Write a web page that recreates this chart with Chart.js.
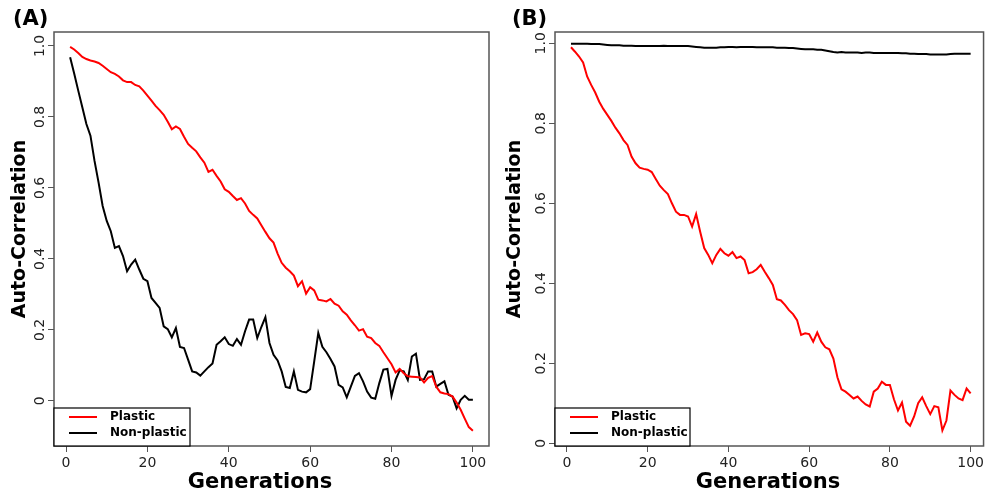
<!DOCTYPE html>
<html>
<head>
<meta charset="utf-8">
<script src="https://cdn.jsdelivr.net/npm/chart.js@4.4.1/dist/chart.umd.min.js"></script>
<style>
  html, body { margin: 0; padding: 0; background: #fff; overflow: hidden; }
  #wrap { position: relative; width: 987px; height: 490px; overflow: hidden; }
  canvas { position: absolute; top: 0; }
  #chartA { left: 0; }
  #chartB { left: 494px; }
</style>
</head>
<body>
<div id="wrap">
  <canvas id="chartA" width="493" height="490"></canvas>
  <canvas id="chartB" width="493" height="490"></canvas>
</div>
<script>
// --- Data ---

const generations = [
  1, 2, 3, 4, 5, 6, 7, 8, 9, 10, 11, 12, 13, 14, 15, 16, 17, 18, 19, 20,
  21, 22, 23, 24, 25, 26, 27, 28, 29, 30, 31, 32, 33, 34, 35, 36, 37, 38, 39, 40,
  41, 42, 43, 44, 45, 46, 47, 48, 49, 50, 51, 52, 53, 54, 55, 56, 57, 58, 59, 60,
  61, 62, 63, 64, 65, 66, 67, 68, 69, 70, 71, 72, 73, 74, 75, 76, 77, 78, 79, 80,
  81, 82, 83, 84, 85, 86, 87, 88, 89, 90, 91, 92, 93, 94, 95, 96, 97, 98, 99, 100
]

const xTicks = [0, 20, 40, 60, 80, 100]
const yTicks = [0, 0.2, 0.4, 0.6, 0.8, 1.0]
const yTickLabels = ['0', '0.2', '0.4', '0.6', '0.8', '1.0']

const seriesLabels = ['Plastic', 'Non-plastic']
const seriesColors = ['#ff0000', '#000000']

// Panel A
const plasticA = [
  0.997, 0.990, 0.980, 0.969, 0.963, 0.959, 0.956, 0.952, 0.944, 0.935,
  0.926, 0.921, 0.914, 0.903, 0.898, 0.898, 0.890, 0.886, 0.874, 0.860,
  0.846, 0.831, 0.819, 0.806, 0.786, 0.765, 0.773, 0.766, 0.744, 0.724,
  0.713, 0.703, 0.686, 0.671, 0.645, 0.651, 0.634, 0.618, 0.596, 0.589,
  0.577, 0.566, 0.571, 0.556, 0.535, 0.524, 0.514, 0.495, 0.476, 0.458,
  0.446, 0.415, 0.389, 0.375, 0.365, 0.353, 0.323, 0.337, 0.302, 0.320,
  0.311, 0.285, 0.283, 0.280, 0.287, 0.274, 0.268, 0.252, 0.243, 0.227,
  0.213, 0.198, 0.202, 0.181, 0.177, 0.163, 0.155, 0.137, 0.120, 0.103,
  0.080, 0.090, 0.078, 0.069, 0.068, 0.067, 0.066, 0.052, 0.065, 0.070,
  0.040, 0.024, 0.021, 0.019, 0.012, -0.005, -0.025, -0.050, -0.074, -0.084
]

const nonPlasticA = [
  0.968, 0.922, 0.874, 0.827, 0.780, 0.747, 0.676, 0.615, 0.549, 0.507,
  0.478, 0.431, 0.436, 0.408, 0.365, 0.384, 0.398, 0.370, 0.344, 0.337,
  0.290, 0.276, 0.262, 0.210, 0.202, 0.179, 0.205, 0.152, 0.149, 0.116,
  0.083, 0.080, 0.071, 0.083, 0.095, 0.105, 0.158, 0.168, 0.179, 0.160,
  0.155, 0.174, 0.158, 0.196, 0.229, 0.229, 0.177, 0.208, 0.236, 0.163,
  0.130, 0.114, 0.083, 0.039, 0.036, 0.083, 0.031, 0.026, 0.024, 0.033,
  0.111, 0.191, 0.152, 0.137, 0.118, 0.097, 0.045, 0.038, 0.010, 0.040,
  0.070, 0.078, 0.055, 0.026, 0.009, 0.006, 0.050, 0.088, 0.090, 0.014,
  0.059, 0.086, 0.083, 0.059, 0.125, 0.133, 0.059, 0.061, 0.083, 0.083,
  0.040, 0.048, 0.055, 0.017, 0.012, -0.021, 0.003, 0.014, 0.003, 0.003
]

// Panel B
const plasticB = [
  0.990, 0.979, 0.967, 0.952, 0.917, 0.896, 0.877, 0.854, 0.836, 0.821,
  0.806, 0.789, 0.775, 0.758, 0.746, 0.717, 0.700, 0.689, 0.686, 0.684,
  0.678, 0.661, 0.644, 0.633, 0.623, 0.600, 0.579, 0.571, 0.571, 0.567,
  0.542, 0.573, 0.529, 0.488, 0.471, 0.450, 0.471, 0.486, 0.475, 0.469,
  0.478, 0.463, 0.467, 0.458, 0.425, 0.428, 0.435, 0.446, 0.429, 0.413,
  0.396, 0.360, 0.357, 0.346, 0.333, 0.323, 0.308, 0.271, 0.275, 0.273,
  0.254, 0.277, 0.254, 0.240, 0.235, 0.212, 0.165, 0.135, 0.129, 0.121,
  0.112, 0.117, 0.106, 0.097, 0.092, 0.129, 0.137, 0.154, 0.146, 0.146,
  0.110, 0.082, 0.102, 0.054, 0.044, 0.067, 0.100, 0.115, 0.093, 0.073,
  0.093, 0.090, 0.032, 0.057, 0.132, 0.121, 0.112, 0.108, 0.137, 0.125
]

const nonPlasticB = [
  0.999, 0.999, 0.999, 0.999, 0.999, 0.998, 0.998, 0.998, 0.997, 0.996,
  0.995, 0.995, 0.995, 0.994, 0.994, 0.994, 0.993, 0.993, 0.993, 0.993,
  0.993, 0.993, 0.993, 0.994, 0.993, 0.993, 0.993, 0.993, 0.993, 0.993,
  0.992, 0.991, 0.990, 0.989, 0.989, 0.989, 0.989, 0.990, 0.990, 0.991,
  0.991, 0.990, 0.991, 0.991, 0.991, 0.991, 0.990, 0.990, 0.990, 0.990,
  0.990, 0.989, 0.989, 0.989, 0.988, 0.988, 0.987, 0.986, 0.985, 0.985,
  0.985, 0.984, 0.984, 0.982, 0.980, 0.978, 0.977, 0.978, 0.977, 0.977,
  0.977, 0.977, 0.976, 0.977, 0.977, 0.976, 0.976, 0.976, 0.976, 0.976,
  0.976, 0.976, 0.975, 0.975, 0.974, 0.974, 0.973, 0.973, 0.973, 0.972,
  0.972, 0.972, 0.972, 0.972, 0.973, 0.974, 0.974, 0.974, 0.974, 0.974
]

// --- Look ---

Chart.defaults.font.family = "'DejaVu Sans', Verdana, sans-serif"
Chart.defaults.color = '#000'

const FONT = "'DejaVu Sans', Verdana, sans-serif"

// R-style frame: box round the plot, panel letter, axis titles, boxed legend
const rFrame = {
  id: 'rFrame',
  afterDatasetsDraw(chart, args, opts) {
    const ctx = chart.ctx
    const a = chart.chartArea
    ctx.save()

    ctx.strokeStyle = '#555'
    ctx.lineWidth = 1.5
    ctx.strokeRect(a.left, a.top, a.right - a.left, a.bottom - a.top)

    // legend in the lower left corner
    const lx = a.left
    const ly = a.bottom - 38
    ctx.fillStyle = '#fff'
    ctx.fillRect(lx, ly, opts.legendWidth, 38)
    ctx.strokeStyle = '#000'
    ctx.lineWidth = 1.2
    ctx.strokeRect(lx, ly, opts.legendWidth, 38)
    chart.data.datasets.forEach((ds, i) => {
      const y = ly + 9 + i * 16
      ctx.strokeStyle = ds.borderColor
      ctx.lineWidth = 2
      ctx.beginPath()
      ctx.moveTo(lx + 15, y)
      ctx.lineTo(lx + 43, y)
      ctx.stroke()
      ctx.fillStyle = '#000'
      ctx.font = 'bold 12px ' + FONT
      ctx.textAlign = 'left'
      ctx.textBaseline = 'middle'
      ctx.fillText(ds.label, lx + 56, y)
    })

    // panel letter
    ctx.fillStyle = '#000'
    ctx.font = 'bold 21px ' + FONT
    ctx.textAlign = 'left'
    ctx.textBaseline = 'middle'
    ctx.fillText(opts.panel, opts.panelX, 20)

    // axis titles
    ctx.font = 'bold 21px ' + FONT
    ctx.textAlign = 'center'
    ctx.textBaseline = 'alphabetic'
    ctx.fillText('Generations', opts.xTitleX, 488)

    ctx.font = 'bold 19px ' + FONT
    ctx.translate(opts.yTitleX, 229)
    ctx.rotate(-Math.PI / 2)
    ctx.textBaseline = 'middle'
    ctx.fillText('Auto-Correlation', 0, 0)

    ctx.restore()
  }
}

function toPoints(values) {
  return values.map((v, i) => ({ x: generations[i], y: v }))
}

function makePanel(id, plastic, nonPlastic, o) {
  return new Chart(document.getElementById(id), {
    type: 'line',
    data: {
      datasets: [
        { label: seriesLabels[0], data: toPoints(plastic), borderColor: seriesColors[0] },
        { label: seriesLabels[1], data: toPoints(nonPlastic), borderColor: seriesColors[1] }
      ].map(ds => Object.assign({ borderWidth: 2, pointRadius: 0, tension: 0, fill: false }, ds))
    },
    options: {
      responsive: false,
      animation: false,
      events: [],
      layout: { padding: { top: 32, right: o.padRight, left: 0, bottom: 0 } },
      plugins: {
        legend: { display: false },
        tooltip: { enabled: false },
        rFrame: o.frame
      },
      scales: {
        x: {
          type: 'linear',
          min: -2.96,
          max: o.xMax,
          afterBuildTicks: s => { s.ticks = xTicks.map(v => ({ value: v })) },
          afterFit: s => { s.height = 44 },
          grid: { drawOnChartArea: false, drawTicks: true, tickLength: 6, color: '#555', lineWidth: 1 },
          border: { display: false },
          ticks: { padding: 3, font: { size: 14 }, color: '#222', maxRotation: 0, autoSkip: false, callback: v => String(v) }
        },
        y: {
          type: 'linear',
          min: o.yMin,
          max: o.yMax,
          afterBuildTicks: s => { s.ticks = yTicks.map(v => ({ value: v })) },
          afterFit: s => { s.width = o.yAxisWidth },
          grid: { drawOnChartArea: false, drawTicks: true, tickLength: 6, color: '#555', lineWidth: 1 },
          border: { display: false },
          ticks: {
            minRotation: 90, maxRotation: 90, crossAlign: 'center', padding: -3,
            font: { size: 14 }, color: '#222', autoSkip: false,
            callback: (v, i) => yTickLabels[i]
          }
        }
      }
    },
    plugins: [rFrame]
  })
}

makePanel('chartA', plasticA, nonPlasticA, {
  yMin: -0.1272, yMax: 1.0392, xMax: 103.96,
  yAxisWidth: 54, padRight: 4,
  frame: { panel: '(A)', panelX: 13, xTitleX: 260, yTitleX: 20, legendWidth: 136 }
})

makePanel('chartB', plasticB, nonPlasticB, {
  yMin: -0.00675, yMax: 1.02825, xMax: 103.2,
  yAxisWidth: 61, padRight: 0,
  frame: { panel: '(B)', panelX: 18, xTitleX: 274, yTitleX: 21, legendWidth: 135 }
})
</script>
</body>
</html>
